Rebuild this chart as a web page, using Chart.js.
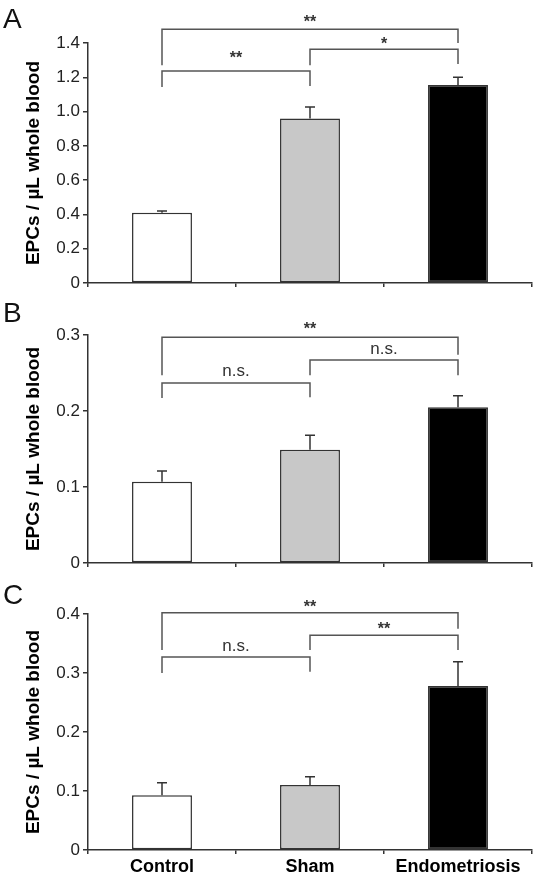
<!DOCTYPE html>
<html>
<head>
<meta charset="utf-8">
<script src="https://cdn.jsdelivr.net/npm/chart.js@4/dist/chart.umd.min.js"></script>
<style>
  body { margin: 0; background: #fff; width: 538px; height: 874px; position: relative; overflow: hidden;
         font-family: "Liberation Sans", Arial, sans-serif; }
  .panel { position: absolute; left: 0; }
  .letter { position: absolute; left: 3px; font-size: 28px; line-height: 1; color: #111; }
</style>
</head>
<body>
<div class="panel" style="top:0"><canvas id="chartA" width="538" height="297"></canvas></div>
<div class="panel" style="top:290px"><canvas id="chartB" width="538" height="287"></canvas></div>
<div class="panel" style="top:570px"><canvas id="chartC" width="538" height="304"></canvas></div>
<div class="letter" style="top:5px">A</div>
<div class="letter" style="top:299px">B</div>
<div class="letter" style="top:581px">C</div>
<script>
// Data
const categories = ["Control", "Sham", "Endometriosis"];

const yTicksA = [0, 0.2, 0.4, 0.6, 0.8, 1.0, 1.2, 1.4];
const yTicksB = [0, 0.1, 0.2, 0.3];
const yTicksC = [0, 0.1, 0.2, 0.3, 0.4];

const meansA = [0.41, 0.96, 1.155];
const semA = [0.01, 0.066, 0.045];
const meansB = [0.107, 0.149, 0.205];
const semB = [0.014, 0.019, 0.015];
const meansC = [0.093, 0.110, 0.278];
const semC = [0.021, 0.014, 0.041];

// Comparisons: [from, to, label]
const compA = [[0, 2, "**"], [0, 1, "**"], [1, 2, "*"]];
const compB = [[0, 2, "**"], [0, 1, "n.s."], [1, 2, "n.s."]];
const compC = [[0, 2, "**"], [0, 1, "n.s."], [1, 2, "**"]];

// Bracket placement in axis units: [bar level, left foot, right foot, label gap px]
const levelsA = [[1.48, 1.27, 1.40, 2], [1.236, 1.143, 1.149, 8], [1.364, 1.27, 1.277, 0]];
const levelsB = [[0.297, 0.247, 0.274, 3], [0.237, 0.217, 0.218, 7], [0.267, 0.247, 0.247, 6]];
const levelsC = [[0.402, 0.339, 0.375, 1], [0.327, 0.300, 0.302, 6], [0.364, 0.339, 0.339, 1]];

const barFills = ["#ffffff", "#c8c8c8", "#000000"];
const lineColor = "#333333";
const bracketColor = "#555555";
const fontFamily = "'Liberation Sans', Arial, sans-serif";

// Error bars and significance brackets
const makeStats = (means, sem, comps, levels) => ({
  id: "stats",
  afterDatasetsDraw(chart) {
    const { ctx, scales: { x, y } } = chart;
    ctx.save();
    ctx.strokeStyle = lineColor;
    ctx.lineWidth = 1.5;
    means.forEach((m, i) => {
      const cx = x.getPixelForValue(i);
      const y0 = y.getPixelForValue(m);
      const y1 = y.getPixelForValue(m + sem[i]);
      ctx.beginPath();
      ctx.moveTo(cx, y0);
      ctx.lineTo(cx, y1);
      ctx.moveTo(cx - 5, y1);
      ctx.lineTo(cx + 5, y1);
      ctx.stroke();
    });

    ctx.strokeStyle = bracketColor;
    ctx.fillStyle = "#333";
    ctx.textAlign = "center";
    ctx.textBaseline = "alphabetic";
    comps.forEach(([a, b, label], k) => {
      const [lvl, footA, footB, gap] = levels[k];
      const xa = x.getPixelForValue(a), xb = x.getPixelForValue(b);
      const yl = y.getPixelForValue(lvl);
      ctx.beginPath();
      ctx.moveTo(xa, y.getPixelForValue(footA));
      ctx.lineTo(xa, yl);
      ctx.lineTo(xb, yl);
      ctx.lineTo(xb, y.getPixelForValue(footB));
      ctx.stroke();
      ctx.font = label === "n.s." ? `17px ${fontFamily}` : `bold 16px ${fontFamily}`;
      ctx.fillText(label, (xa + xb) / 2, yl - gap);
    });
    ctx.restore();
  }
});

const createPanel = (id, opts) => {
  const { means, sem, comps, levels, ticks, top, axisHeight, showLabels } = opts;
  const ctx = document.getElementById(id).getContext("2d");
  return new Chart(ctx, {
    type: "bar",
    data: {
      labels: categories,
      datasets: [{
        data: means,
        backgroundColor: barFills,
        borderColor: lineColor,
        borderWidth: 1.5,
        borderSkipped: false,
        barPercentage: 0.405,
        categoryPercentage: 1,
      }],
    },
    options: {
      responsive: false,
      animation: false,
      layout: { padding: { top: top, right: 6, left: 0, bottom: 0 } },
      plugins: { legend: { display: false }, tooltip: { enabled: false } },
      scales: {
        x: {
          afterFit: (s) => { s.height = axisHeight; },
          grid: { display: true, drawOnChartArea: false, drawTicks: true, tickLength: 4, color: lineColor, lineWidth: 1.5 },
          border: { display: true, color: lineColor, width: 1.5 },
          ticks: {
            display: showLabels,
            padding: 2,
            color: "#000",
            font: { family: fontFamily, size: 18, weight: "bold" },
          },
        },
        y: {
          min: 0,
          max: ticks[ticks.length - 1],
          afterFit: (s) => { s.width = 88; },
          afterBuildTicks: (s) => { s.ticks = ticks.map((v) => ({ value: v })); },
          grid: { display: true, drawOnChartArea: false, drawTicks: true, tickLength: 5, color: lineColor, lineWidth: 1.5 },
          border: { display: true, color: lineColor, width: 1.5 },
          ticks: {
            padding: 3,
            color: "#222",
            font: { family: fontFamily, size: 17 },
            callback: (v) => (v === 0 ? "0" : v.toFixed(1)),
          },
          title: {
            display: true,
            text: "EPCs / µL whole blood",
            color: "#000",
            font: { family: fontFamily, size: 19, weight: "bold" },
            padding: { top: 22, bottom: 0 },
          },
        },
      },
    },
    plugins: [makeStats(means, sem, comps, levels)],
  });
};

createPanel("chartA", { means: meansA, sem: semA, comps: compA, levels: levelsA, ticks: yTicksA, top: 43, axisHeight: 14, showLabels: false });
createPanel("chartB", { means: meansB, sem: semB, comps: compB, levels: levelsB, ticks: yTicksB, top: 45, axisHeight: 14, showLabels: false });
createPanel("chartC", { means: meansC, sem: semC, comps: compC, levels: levelsC, ticks: yTicksC, top: 44, axisHeight: 24, showLabels: true });
</script>
</body>
</html>
